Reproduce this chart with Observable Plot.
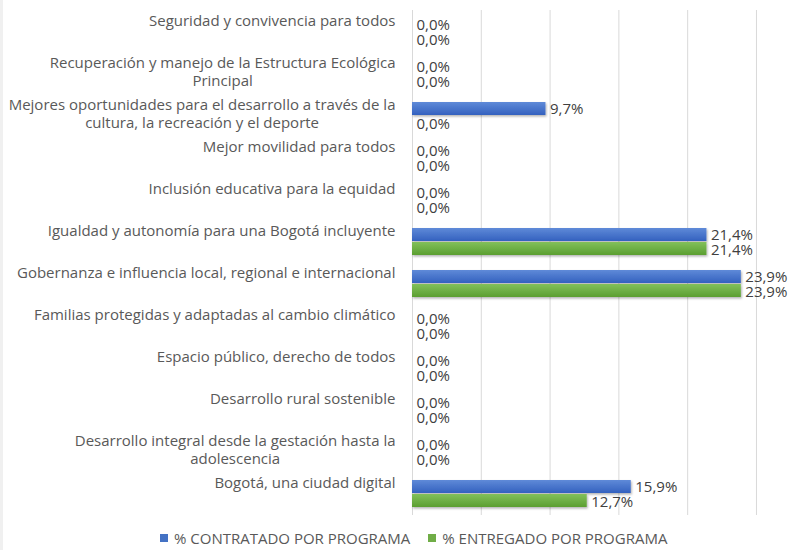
<!DOCTYPE html>
<html>
<head>
<meta charset="utf-8">
<script src="https://cdn.jsdelivr.net/npm/d3@7"></script>
<script src="https://cdn.jsdelivr.net/npm/@observablehq/plot@0.6"></script>
<style>
  html, body { margin: 0; padding: 0; background: #fff; }
  body { width: 800px; height: 550px; overflow: hidden; font-family: "Open Sans", Lato, sans-serif; box-shadow: inset 3px 0 0 #f0f0f0; }
  #legend { height: 25px; display: flex; align-items: center; padding-left: 160px; font-size: 15px; color: #595959; }
  #legend .item { display: flex; align-items: center; }
  #legend .sw { width: 8px; height: 8px; margin-right: 6px; }
</style>
</head>
<body>
<div id="chart"></div>
<div id="legend"></div>
<script>
const categories = [
  "Seguridad y convivencia para todos",
  "Recuperación y manejo de la Estructura Ecológica Principal",
  "Mejores oportunidades para el desarrollo a través de la cultura, la recreación y el deporte",
  "Mejor movilidad para todos",
  "Inclusión educativa para la equidad",
  "Igualdad y autonomía para una Bogotá incluyente",
  "Gobernanza e influencia local, regional e internacional",
  "Familias protegidas y adaptadas al cambio climático",
  "Espacio público, derecho de todos",
  "Desarrollo rural sostenible",
  "Desarrollo integral desde la gestación hasta la adolescencia",
  "Bogotá, una ciudad digital"
];
const labelLine1 = [
  "Seguridad y convivencia para todos",
  "Recuperación y manejo de la Estructura Ecológica",
  "Mejores oportunidades para el desarrollo a través de la",
  "Mejor movilidad para todos",
  "Inclusión educativa para la equidad",
  "Igualdad y autonomía para una Bogotá incluyente",
  "Gobernanza e influencia local, regional e internacional",
  "Familias protegidas y adaptadas al cambio climático",
  "Espacio público, derecho de todos",
  "Desarrollo rural sostenible",
  "Desarrollo integral desde la gestación hasta la",
  "Bogotá, una ciudad digital"
];
const labelLine2 = ["", "Principal", "cultura, la recreación y el deporte", "", "", "", "", "", "", "", "adolescencia", ""];
const contratado = [0, 0, 9.7, 0, 0, 21.4, 23.9, 0, 0, 0, 0, 15.9];
const entregado  = [0, 0, 0,   0, 0, 21.4, 23.9, 0, 0, 0, 0, 12.7];
const seriesNames = ["% CONTRATADO POR PROGRAMA", "% ENTREGADO POR PROGRAMA"];
const seriesColors = ["#4472C4", "#70AD47"];
const xTicks = [0, 5, 10, 15, 20, 25];

const rows = categories.map((c, i) => ({cat: c, l1: labelLine1[i], l2: labelLine2[i], c: contratado[i], e: entregado[i]}));
const fmt = v => v.toFixed(1).replace(".", ",") + "%";
const font = "'Open Sans', Lato, sans-serif";
const fs = 15;

// measure first-line widths so second lines can be centred under them
const ctx = document.createElement("canvas").getContext("2d");
ctx.font = `${fs}px 'Open Sans', Lato, sans-serif`;
const labelPad = 17;

const secondLineMarks = rows.filter(d => d.l2).map(d => {
  const w = ctx.measureText(d.l1).width;
  return Plot.text([d], {y: "cat", frameAnchor: "left", text: "l2", textAnchor: "middle", dx: -labelPad - w / 2, dy: 7, fill: "#595959", fontSize: fs});
});

const plot = Plot.plot({
  width: 800,
  height: 525,
  marginLeft: 412,
  marginRight: 0,
  marginTop: 10,
  marginBottom: 10,
  style: {fontFamily: font, background: "transparent"},
  x: {domain: [0, 28.2], axis: null},
  y: {domain: categories, paddingInner: 0.36, paddingOuter: 0.18, axis: null},
  marks: [
    Plot.ruleX(xTicks, {stroke: "#d9d9d9", strokeWidth: 1}),
    Plot.barX(rows, {y: "cat", x: "c", insetBottom: 14, fill: "url(#gradBlue)"}),
    Plot.barX(rows, {y: "cat", x: "e", insetTop: 14, fill: "url(#gradGreen)"}),
    Plot.text(rows, {y: "cat", x: "c", text: d => fmt(d.c), textAnchor: "start", dx: 4, dy: -7, fill: "#404040", fontSize: fs}),
    Plot.text(rows, {y: "cat", x: "e", text: d => fmt(d.e), textAnchor: "start", dx: 4, dy: 8, fill: "#404040", fontSize: fs}),
    Plot.text(rows, {y: "cat", frameAnchor: "left", text: "l1", textAnchor: "end", dx: -labelPad, dy: -11, fill: "#595959", fontSize: fs}),
    ...secondLineMarks
  ]
});

// gradients and shadow
const ns = "http://www.w3.org/2000/svg";
const defs = document.createElementNS(ns, "defs");
defs.innerHTML = `
  <linearGradient id="gradBlue" x1="0" y1="0" x2="0" y2="1">
    <stop offset="0" stop-color="#5f8ad8"/><stop offset="1" stop-color="#3461bf"/>
  </linearGradient>
  <linearGradient id="gradGreen" x1="0" y1="0" x2="0" y2="1">
    <stop offset="0" stop-color="#82c05a"/><stop offset="1" stop-color="#5b9f31"/>
  </linearGradient>
  <filter id="shadow" x="-5%" y="-30%" width="110%" height="170%">
    <feDropShadow dx="1" dy="1.5" stdDeviation="1" flood-color="#000" flood-opacity="0.3"/>
  </filter>`;
plot.insertBefore(defs, plot.firstChild);
plot.querySelectorAll("rect").forEach(r => r.setAttribute("filter", "url(#shadow)"));

document.getElementById("chart").appendChild(plot);

// legend
const legend = document.getElementById("legend");
seriesNames.forEach((name, i) => {
  const item = document.createElement("div");
  item.className = "item";
  item.style.marginRight = i === 0 ? "18px" : "0";
  const sw = document.createElement("span");
  sw.className = "sw";
  sw.style.background = seriesColors[i];
  const tx = document.createElement("span");
  tx.textContent = name;
  item.appendChild(sw);
  item.appendChild(tx);
  legend.appendChild(item);
});
</script>
</body>
</html>
